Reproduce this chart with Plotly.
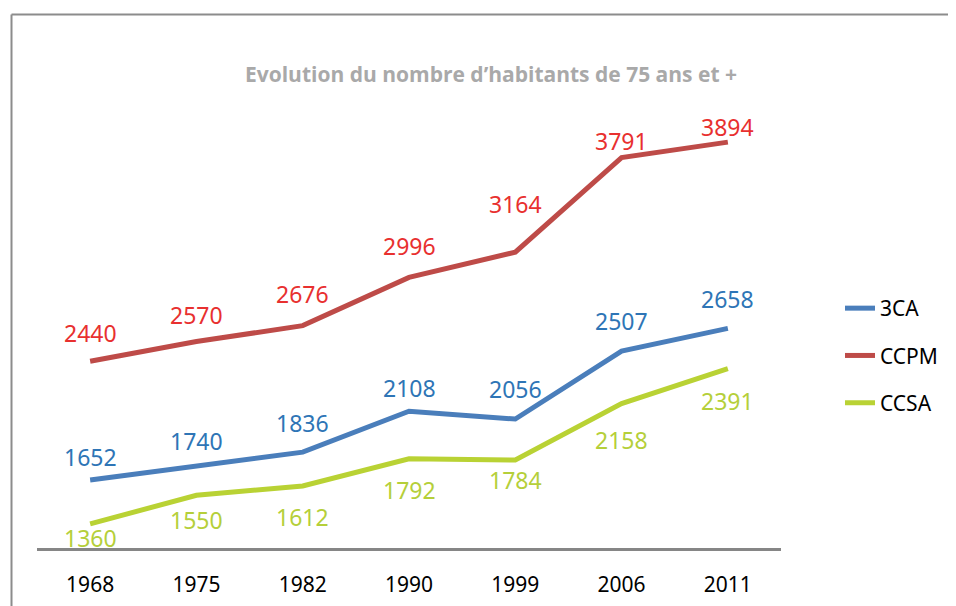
import plotly.graph_objects as go

years = ["1968", "1975", "1982", "1990", "1999", "2006", "2011"]
ca3 = [1652, 1740, 1836, 2108, 2056, 2507, 2658]
ccpm = [2440, 2570, 2676, 2996, 3164, 3791, 3894]
ccsa = [1360, 1550, 1612, 1792, 1784, 2158, 2391]
title_text = "Evolution du nombre d\u2019habitants de 75 ans et +"

# label vertical offsets (px) - styling only
dy_ca3 = [23, 26, 29, 23, 30, 30, 29]
dy_ccpm = [28, 27, 32, 31, 48, 17, 15]
dy_ccsa = [-14, -25, -31, -31, -20, -36, -32]

FONT = "Noto Sans"
series = [
    ("3CA", ca3, "#4A7EBB", "#2E75B6", dy_ca3),
    ("CCPM", ccpm, "#BE4B48", "#E8302F", dy_ccpm),
    ("CCSA", ccsa, "#B9D234", "#B5CF3A", dy_ccsa),
]

fig = go.Figure()
annotations = []
for name, vals, lc, tc, dys in series:
    fig.add_trace(go.Scatter(
        x=years, y=vals, name=name, mode="lines",
        line=dict(color=lc, width=5), legendgroup=name,
    ))
    for i, (v, d) in enumerate(zip(vals, dys)):
        annotations.append(dict(
            x=i, y=v, text=str(v), showarrow=False, yshift=d,
            font=dict(family=FONT, size=23, color=tc),
            xref="x", yref="y",
        ))

W, H = 956, 606
OFF = 8  # page body margin
ml, mr, mt, mb = 37 - OFF, 956 - 781 + OFF, 96 - OFF, 606 - 548 + OFF
pw, ph = W - ml - mr, H - mt - mb

def px(xp):
    return (xp - OFF - ml) / pw

def py(yp):
    return (H - mb - (yp - OFF)) / ph

fig.update_layout(
    width=W, height=H,
    margin=dict(l=ml, r=mr, t=mt, b=mb),
    paper_bgcolor="white", plot_bgcolor="white",
    title=dict(text=title_text, x=px(491), xref="paper", xanchor="center",
               y=1 - (75 - OFF) / H, yanchor="middle",
               font=dict(family="Open Sans", size=21, color="#A9A9A9", weight="bold")),
    xaxis=dict(type="category", range=[-0.5, 6.5], showgrid=False, zeroline=False,
               showline=True, linecolor="#868686", linewidth=3,
               ticks="outside", ticklen=16, tickcolor="rgba(0,0,0,0)",
               tickfont=dict(family=FONT, size=21, color="black")),
    yaxis=dict(range=[1200, 4200], visible=False, showgrid=False, zeroline=False),
    legend=dict(x=px(840), y=py(288), xanchor="left", yanchor="top",
                font=dict(family=FONT, size=21, color="black"),
                tracegroupgap=17, bgcolor="rgba(0,0,0,0)"),
    showlegend=True,
    annotations=annotations,
    shapes=[
        dict(type="line", xref="paper", yref="paper", x0=px(11.5), x1=px(964),
             y0=py(14.5), y1=py(14.5), line=dict(color="#8C8C8C", width=2)),
        dict(type="line", xref="paper", yref="paper", x0=px(11.5), x1=px(11.5),
             y0=py(14.5), y1=py(620), line=dict(color="#8C8C8C", width=2)),
    ],
)

fig.write_html("out.html")
